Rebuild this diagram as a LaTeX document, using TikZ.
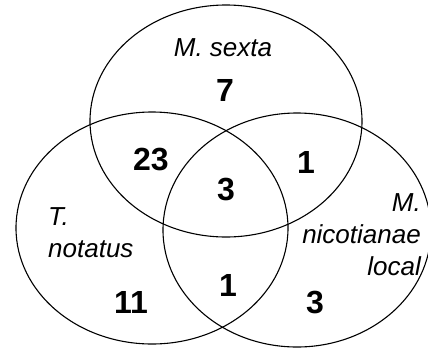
\documentclass[tikz,border=0pt]{standalone}
\usepackage{fontspec}
\setmainfont{Liberation Sans}
\usetikzlibrary{positioning}
\tikzset{
  set/.style={draw=black,line width=1.1pt},
  species/.style={font=\fontsize{26}{32}\selectfont\itshape,inner sep=0pt},
  count/.style={font=\fontsize{32}{34}\selectfont\bfseries,inner sep=0pt},
}

\begin{document}
\begin{tikzpicture}[x=1pt,y=-1pt]
  \useasboundingbox (0,0) rectangle (428,349);

  % ---- the three sets ----
  \draw[set] (226,121) ellipse [x radius=136,y radius=116];
  \draw[set] (152,228) ellipse [x radius=136,y radius=116];
  \draw[set] (297,230) ellipse [x radius=134,y radius=117];

  % ---- set names ----
  \node[species] (sexta) at (223,48) {M. sexta};
  \node[species,align=left,anchor=west] (notatus) at (48,233)
    {T.\\notatus};
  \node[species,align=right,anchor=east] (nicot) at (421,235)
    {M.\\nicotianae\\local};

  % ---- counts ----
  \node[count] (onlysexta) at (225,90) {7};
  \node[count] (sextanot) at (151,160) {23};
  \node[count] (sextanic) at (306,162) {1};
  \node[count] (all) at (226,190) {3};
  \node[count] (notnic) at (228,285) {1};
  \node[count] (onlynot) at (131,302) {11};
  \node[count] (onlynic) at (315,302) {3};
\end{tikzpicture}
\end{document}
